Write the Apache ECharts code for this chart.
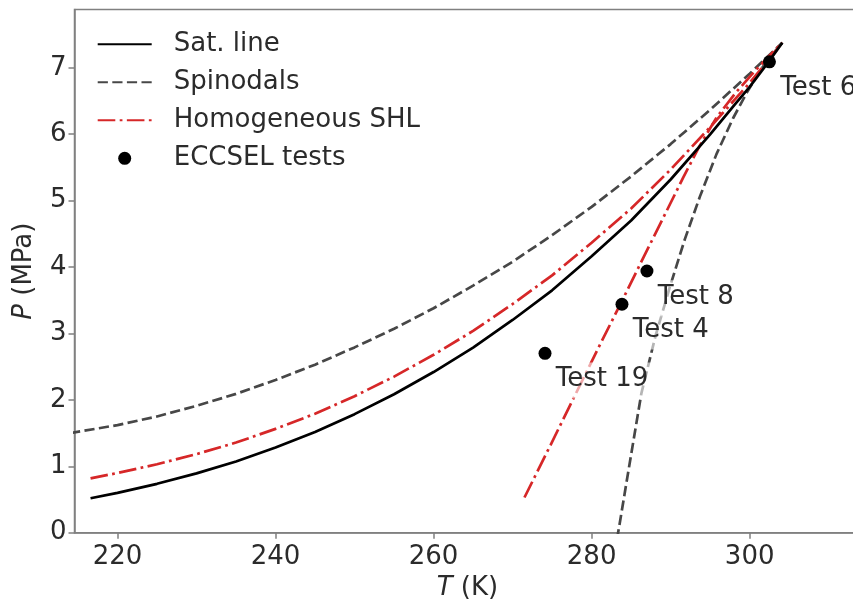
<!DOCTYPE html>
<html><head><meta charset="utf-8">
<script src="https://cdn.jsdelivr.net/npm/echarts@6/dist/echarts.min.js"></script>
<style>html,body{margin:0;padding:0;background:#fff}#c{width:853px;height:600px}</style>
</head><body><div id="c"></div>
<script>
// ---- data ----
const xTicks = [220, 240, 260, 280, 300];
const yTicks = [0, 1, 2, 3, 4, 5, 6, 7];

const satT = [216.59, 220, 225, 230, 235, 240, 245, 250, 255, 260, 265, 270, 275, 280, 285, 290, 295, 298, 300, 302, 303, 304.13];
const satP = [0.518, 0.599, 0.736, 0.893, 1.072, 1.283, 1.516, 1.785, 2.085, 2.419, 2.788, 3.203, 3.649, 4.161, 4.701, 5.318, 5.996, 6.43, 6.713, 7.027, 7.19, 7.377];

const spinUpT = [214, 220, 225, 230, 235, 240, 245, 250, 255, 260, 265, 270, 275, 280, 285, 290, 295, 300, 302, 304.13];
const spinUpP = [1.50, 1.62, 1.75, 1.91, 2.09, 2.30, 2.53, 2.79, 3.07, 3.38, 3.72, 4.08, 4.48, 4.906, 5.365, 5.851, 6.367, 6.911, 7.136, 7.377];

const spinLoT = [283.2, 283.5, 284.5, 285.4, 286.3, 288.1, 289.9, 291.8, 293.7, 295.8, 297.9, 299.7, 301.4, 302.8, 304.13];
const spinLoP = [-0.1, 0.1, 0.82, 1.46, 2.1, 2.97, 3.70, 4.42, 5.06, 5.70, 6.24, 6.64, 6.97, 7.19, 7.377];

const shlUpT = [216.59, 220, 225, 230, 235, 240, 245, 250, 255, 260, 265, 270, 275, 280, 285, 290, 295, 300, 302, 304.13];
const shlUpP = [0.818, 0.899, 1.031, 1.183, 1.357, 1.563, 1.791, 2.055, 2.350, 2.679, 3.038, 3.443, 3.874, 4.366, 4.881, 5.468, 6.106, 6.773, 7.062, 7.377];

const shlLoT = [271.5, 274.8, 277.9, 280.8, 283.8, 286.5, 289.1, 291.6, 293.7, 295.8, 298.2, 300.5, 302.4, 304.13];
const shlLoP = [0.53, 1.32, 2.07, 2.77, 3.48, 4.13, 4.75, 5.35, 5.83, 6.25, 6.62, 6.93, 7.17, 7.377];

const testNames = ['Test 6', 'Test 8', 'Test 4', 'Test 19'];
const testT = [302.5, 287.0, 283.84, 274.1];
const testP = [7.09, 3.94, 3.44, 2.70];

// ---- chart ----
const FONT = 'DejaVu Sans';
const TXT = '#2b2b2b';
const SPINE = '#808080';
const LW = 2.7;
const zip = (a, b) => a.map((v, i) => [v, b[i]]);

const chart = echarts.init(document.getElementById('c'), null, {renderer: 'canvas'});
const lineBase = {type: 'line', symbol: 'none', showSymbol: false, animation: false, clip: true, silent: true, smooth: false};

chart.setOption({
  animation: false,
  backgroundColor: '#ffffff',
  grid: {left: 74.5, top: 9.6, right: -7.3, bottom: 67.3, show: true, borderColor: SPINE, borderWidth: 1.5,
         containLabel: false, outerBoundsMode: 'none'},
  legend: {
    orient: 'vertical', left: 96.7, top: 29.3, padding: 0,
    itemWidth: 54, itemHeight: 13, itemGap: 8,
    selectedMode: false,
    textStyle: {fontSize: 26, fontFamily: FONT, color: TXT, lineHeight: 26, padding: [4, 0, 0, 17]},
    data: [
      {name: 'Sat. line', itemStyle: {opacity: 0}},
      {name: 'Spinodals', itemStyle: {opacity: 0}},
      {name: 'Homogeneous SHL', itemStyle: {opacity: 0}},
      {name: 'ECCSEL tests', icon: 'circle', itemStyle: {opacity: 1, color: '#000000'}}
    ]
  },
  xAxis: {
    type: 'value', min: 214.56, max: 314,
    axisLine: {show: true, lineStyle: {color: SPINE, width: 1.5}},
    axisTick: {show: true, length: 6, customValues: xTicks, lineStyle: {color: SPINE, width: 1.5}},
    axisLabel: {customValues: xTicks, margin: 11.2, fontSize: 26, fontFamily: FONT, color: TXT},
    splitLine: {show: false},
    name: '{i|T} (K)', nameLocation: 'middle', nameGap: 40.5,
    nameTextStyle: {fontSize: 26, fontFamily: FONT, color: TXT,
      rich: {i: {fontStyle: 'italic', fontSize: 26, fontFamily: FONT, color: TXT}}}
  },
  yAxis: {
    type: 'value', min: 0, max: 7.876,
    axisLine: {show: true, lineStyle: {color: SPINE, width: 1.5}},
    axisTick: {show: true, length: 6, customValues: yTicks, lineStyle: {color: SPINE, width: 1.5}},
    axisLabel: {customValues: yTicks, margin: 8, fontSize: 26, fontFamily: FONT, color: TXT, padding: [8.6, 0, 0, 0]},
    splitLine: {show: false},
    name: '{i|P} (MPa)', nameLocation: 'middle', nameGap: 37.6,
    nameTextStyle: {fontSize: 26, fontFamily: FONT, color: TXT,
      rich: {i: {fontStyle: 'italic', fontSize: 26, fontFamily: FONT, color: TXT}}}
  },
  series: [
    Object.assign({}, lineBase, {name: 'Sat. line', data: zip(satT, satP), z: 3,
      lineStyle: {color: '#000000', width: LW, type: 'solid'}, itemStyle: {color: '#000000'}}),
    Object.assign({}, lineBase, {name: 'Spinodals', data: zip(spinUpT, spinUpP), z: 2,
      lineStyle: {color: '#474747', width: LW, type: [10.2, 4.4]}, itemStyle: {color: '#474747'}}),
    Object.assign({}, lineBase, {name: 'Spinodals', data: zip(spinLoT, spinLoP), z: 2,
      lineStyle: {color: '#474747', width: LW, type: [10.2, 4.4]}, itemStyle: {color: '#474747'}}),
    Object.assign({}, lineBase, {name: 'Homogeneous SHL', data: zip(shlUpT, shlUpP), z: 2,
      lineStyle: {color: '#d62728', width: LW, type: [17.6, 4.4, 2.75, 4.4]}, itemStyle: {color: '#d62728'}}),
    Object.assign({}, lineBase, {name: 'Homogeneous SHL', data: zip(shlLoT, shlLoP), z: 2,
      lineStyle: {color: '#d62728', width: LW, type: [17.6, 4.4, 2.75, 4.4]}, itemStyle: {color: '#d62728'}}),
    {
      type: 'scatter', name: 'ECCSEL tests', animation: false, silent: true, z: 5,
      symbol: 'circle', symbolSize: 13, itemStyle: {color: '#000000', opacity: 1},
      data: testNames.map((n, i) => ({name: n, value: [testT[i], testP[i]]})),
      label: {show: true, formatter: '{b}', position: [13.3, 15.7], align: 'left', verticalAlign: 'top',
        fontSize: 26, fontFamily: FONT, color: TXT, opacity: 1, lineHeight: 26,
        backgroundColor: 'rgba(255,255,255,0.6)', padding: [4, 4, 6, 4]},
      labelLayout: {hideOverlap: false}
    }
  ]
});
</script>
</body></html>
